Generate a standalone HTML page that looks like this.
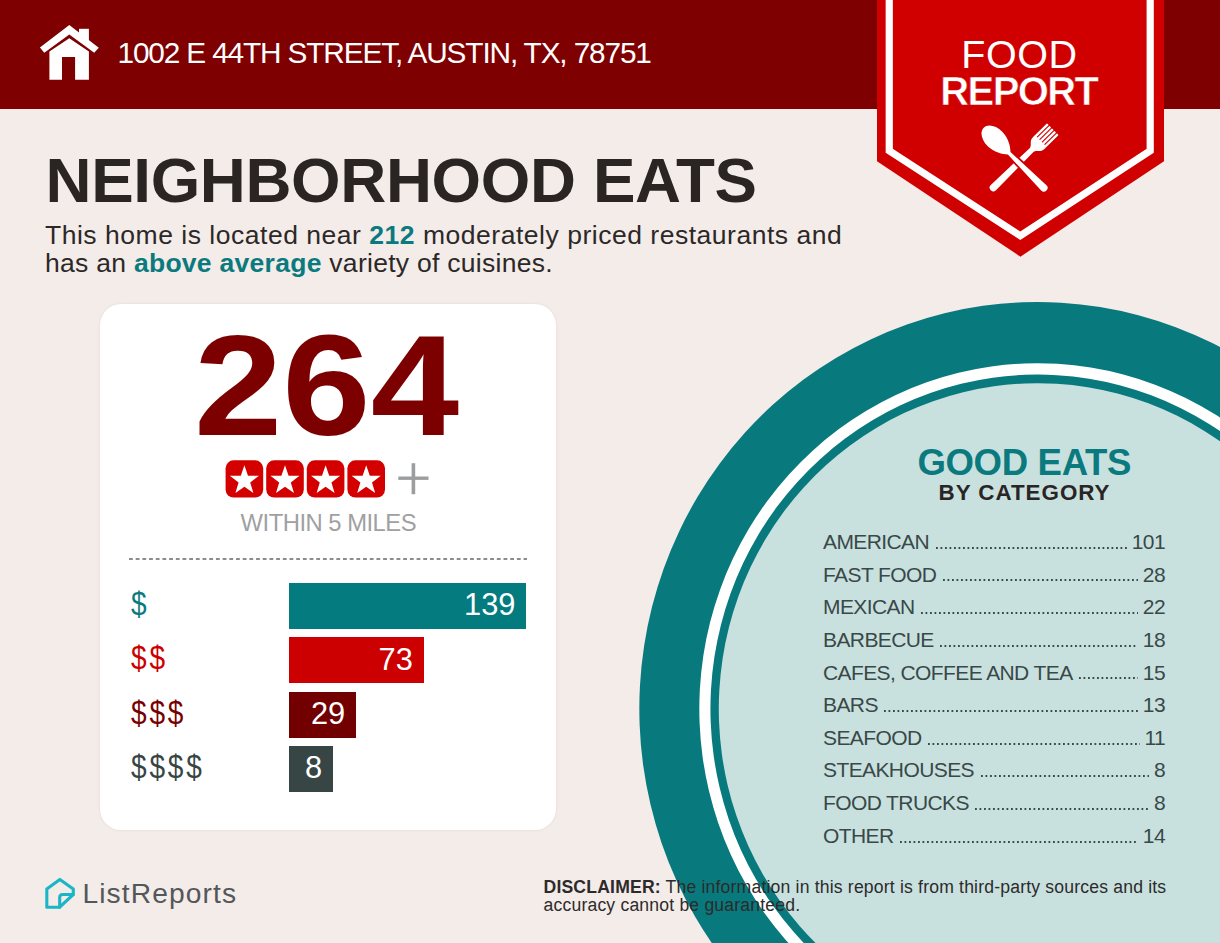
<!DOCTYPE html>
<html><head><meta charset="utf-8">
<style>
html,body{margin:0;padding:0;}
body{width:1220px;height:943px;overflow:hidden;position:relative;background:#f3ece9;font-family:"Liberation Sans",sans-serif;}
.abs{position:absolute;white-space:nowrap;line-height:1;}
#hdr{position:absolute;left:0;top:0;width:1220px;height:109px;background:#7f0000;}
#addr{left:117.5px;top:38.2px;font-size:29.8px;letter-spacing:-1.15px;color:#fff;}
#h1{left:45.6px;top:147.7px;font-size:63.7px;letter-spacing:-0.36px;font-weight:bold;color:#2a2523;}
.body{left:45px;font-size:26.5px;letter-spacing:0.3px;color:#2d2828;}
.tb{color:#0b7a7e;font-weight:bold;}
#card{position:absolute;left:100px;top:304px;width:456px;height:525.7px;background:#fff;border-radius:21px;box-shadow:0 0 3px rgba(80,60,50,0.10);}
#big{left:194px;top:315.3px;font-size:142.5px;font-weight:bold;color:#7c0000;transform:scaleX(1.115);transform-origin:0 0;}
#within{left:240.6px;top:510.6px;font-size:23.8px;letter-spacing:-0.5px;color:#9fa0a2;}
#dash{position:absolute;left:129.4px;top:558.3px;width:397.4px;height:2px;background-image:linear-gradient(to right,#8c8c8c 4px,transparent 4px);background-size:6.7px 2px;background-repeat:repeat-x;}
.bar{position:absolute;left:288.65px;height:46.2px;}
.bar span{position:absolute;right:11px;top:7.6px;font-size:30.8px;line-height:1;color:#fff;white-space:nowrap;}
.dl{left:130.6px;font-size:33px;letter-spacing:3.3px;transform:scaleX(0.85);transform-origin:0 0;}
.cat{left:823px;width:342px;font-size:21px;letter-spacing:-0.6px;color:#3a4848;display:flex;align-items:flex-start;}
.cat .n{flex:none;}
.cat .d{flex:1;margin:15.8px 4.5px 0 6.6px;height:2px;background-image:linear-gradient(to right,#3a4848 2px,transparent 2px);background-size:4.5px 2px;background-repeat:repeat-x;}
</style></head>
<body>
<div id="hdr"></div>
<!-- house icon -->
<svg class="abs" style="left:0;top:0" width="120" height="108" viewBox="0 0 120 108">
<polygon fill="#fff" points="69.3,25.1 98.8,47.7 94.2,52.7 69.3,34.4 44.3,52.7 39.9,47.4"/>
<rect fill="#fff" x="79" y="28.8" width="9.9" height="12"/>
<polygon fill="#fff" points="49.4,51.6 69.3,38.3 88.9,51.6 88.9,79.7 75.1,79.7 75.1,56.9 62,56.9 62,79.7 49.4,79.7"/>
</svg>
<div id="addr" class="abs">1002 E 44TH STREET, AUSTIN, TX, 78751</div>

<div id="h1" class="abs">NEIGHBORHOOD EATS</div>
<div class="abs body" style="top:222.45px;letter-spacing:0.52px">This home is located near <span class="tb">212</span> moderately priced restaurants and</div>
<div class="abs body" style="top:249.65px;letter-spacing:0.28px">has an <span class="tb">above average</span> variety of cuisines.</div>

<!-- circle -->
<svg class="abs" style="left:0;top:0" width="1220" height="943" viewBox="0 0 1220 943">
<ellipse cx="1038.29" cy="709.44" rx="398.95" ry="407.49" fill="#087a7e" transform="rotate(177.70 1038.29 709.44)"/>
<ellipse cx="1038.29" cy="709.44" rx="338.96" ry="346.21" fill="#ffffff" transform="rotate(177.70 1038.29 709.44)"/>
<ellipse cx="1038.29" cy="709.44" rx="327.84" ry="334.86" fill="#087a7e" transform="rotate(177.70 1038.29 709.44)"/>
<ellipse cx="1038.29" cy="709.44" rx="319.48" ry="326.32" fill="#c8e1df" transform="rotate(177.70 1038.29 709.44)"/>
</svg>

<div id="card"></div>
<div id="big" class="abs">264</div>
<svg class="abs" style="left:0;top:440px" width="460" height="80" viewBox="0 440 460 80">
<rect fill="#d40000" x="225.60" y="460.3" width="37.6" height="37.3" rx="8"/>
<polygon fill="#fff" points="244.40,465.30 248.00,475.65 258.95,475.87 250.22,482.49 253.39,492.98 244.40,486.72 235.41,492.98 238.58,482.49 229.85,475.87 240.80,475.65"/>
<rect fill="#d40000" x="266.20" y="460.3" width="37.6" height="37.3" rx="8"/>
<polygon fill="#fff" points="285.00,465.30 288.60,475.65 299.55,475.87 290.82,482.49 293.99,492.98 285.00,486.72 276.01,492.98 279.18,482.49 270.45,475.87 281.40,475.65"/>
<rect fill="#d40000" x="306.80" y="460.3" width="37.6" height="37.3" rx="8"/>
<polygon fill="#fff" points="325.60,465.30 329.20,475.65 340.15,475.87 331.42,482.49 334.59,492.98 325.60,486.72 316.61,492.98 319.78,482.49 311.05,475.87 322.00,475.65"/>
<rect fill="#d40000" x="347.40" y="460.3" width="37.6" height="37.3" rx="8"/>
<polygon fill="#fff" points="366.20,465.30 369.80,475.65 380.75,475.87 372.02,482.49 375.19,492.98 366.20,486.72 357.21,492.98 360.38,482.49 351.65,475.87 362.60,475.65"/>
<rect fill="#9b9d9f" x="398.3" y="476.5" width="30.2" height="3.4"/>
<rect fill="#9b9d9f" x="411.6" y="463.2" width="3.6" height="31"/>
</svg>
<div id="within" class="abs">WITHIN 5 MILES</div>
<div id="dash"></div>
<div class="bar" style="top:582.6px;width:237.8px;background:#037b7f"><span>139</span></div>
<div class="bar" style="top:637.2px;width:135.2px;background:#cc0000"><span>73</span></div>
<div class="bar" style="top:691.6px;width:67.6px;background:#720000"><span>29</span></div>
<div class="bar" style="top:745.7px;width:44.6px;background:#374545"><span>8</span></div>
<div class="abs dl" style="top:587.0px;color:#0b7a7e">$</div>
<div class="abs dl" style="top:641.4px;color:#cc0000">$$</div>
<div class="abs dl" style="top:695.7px;color:#770000">$$$</div>
<div class="abs dl" style="top:750.1px;color:#374545">$$$$</div>

<!-- badge -->
<svg class="abs" style="left:0;top:0" width="1220" height="300" viewBox="0 0 1220 300">
<polygon fill="#d10000" points="877,0 1164,0 1164,161.2 1020.4,256.7 877,161.2"/>
<polyline fill="none" stroke="#fff" stroke-width="7.2" stroke-linejoin="miter" stroke-miterlimit="10" points="889.25,0 889.25,150.85 1020.3,235.75 1150.2,150.85 1150.2,0"/>
<g transform="translate(1018.7,162.7) rotate(45.5)">
<path fill="#fff" d="M-8.25,-31 L8.25,-31 L8.25,-28 C8.25,-22.5 2.7,-21.5 2.7,-18 L3.7,35.5 A3.7,3.7 0 0 1 -3.7,35.5 L-2.7,-18 C-2.7,-21.5 -8.25,-22.5 -8.25,-28 Z"/>
<rect fill="#fff" x="-8.25" y="-47.8" width="2.38" height="17.3" rx="0.6"/>
<rect fill="#fff" x="-4.72" y="-47.8" width="2.38" height="17.3" rx="0.6"/>
<rect fill="#fff" x="-1.19" y="-47.8" width="2.38" height="17.3" rx="0.6"/>
<rect fill="#fff" x="2.34" y="-47.8" width="2.38" height="17.3" rx="0.6"/>
<rect fill="#fff" x="5.87" y="-47.8" width="2.38" height="17.3" rx="0.6"/>
</g>
<g transform="translate(1018,162) rotate(-45)">
<path fill="#fff" stroke="#d10000" stroke-width="3.6" paint-order="stroke" d="M0,-48.5 C5.9,-48.5 10.3,-41.5 10.3,-32.5 C10.3,-23.5 5,-15.5 1.8,-12.5 L3.75,36.5 A3.75,3.75 0 0 1 -3.75,36.5 L-1.8,-12.5 C-5,-15.5 -10.3,-23.5 -10.3,-32.5 C-10.3,-41.5 -5.9,-48.5 0,-48.5 Z"/>
</g>
</svg>
<div class="abs" style="left:961.3px;top:35.2px;font-size:39.5px;letter-spacing:0.54px;color:#fff">FOOD</div>
<div class="abs" style="left:940.3px;top:71.4px;font-size:40px;letter-spacing:-1.6px;font-weight:bold;color:#fff;-webkit-text-stroke:0.6px #d10000">REPORT</div>

<!-- good eats -->
<div class="abs" style="left:917.4px;top:444.5px;font-size:36.6px;letter-spacing:-0.34px;font-weight:bold;color:#0b7a7e">GOOD EATS</div>
<div class="abs" style="left:938.5px;top:482.3px;font-size:22.4px;letter-spacing:0.97px;font-weight:bold;color:#2a2525">BY CATEGORY</div>

<div class="abs cat" style="top:530.86px"><span class="n">AMERICAN</span><span class="d"></span><span class="n">101</span></div>
<div class="abs cat" style="top:563.52px"><span class="n">FAST FOOD</span><span class="d"></span><span class="n">28</span></div>
<div class="abs cat" style="top:596.18px"><span class="n">MEXICAN</span><span class="d"></span><span class="n">22</span></div>
<div class="abs cat" style="top:628.84px"><span class="n">BARBECUE</span><span class="d"></span><span class="n">18</span></div>
<div class="abs cat" style="top:661.50px"><span class="n">CAFES, COFFEE AND TEA</span><span class="d"></span><span class="n">15</span></div>
<div class="abs cat" style="top:694.16px"><span class="n">BARS</span><span class="d"></span><span class="n">13</span></div>
<div class="abs cat" style="top:726.82px"><span class="n">SEAFOOD</span><span class="d"></span><span class="n">11</span></div>
<div class="abs cat" style="top:759.48px"><span class="n">STEAKHOUSES</span><span class="d"></span><span class="n">8</span></div>
<div class="abs cat" style="top:792.14px"><span class="n">FOOD TRUCKS</span><span class="d"></span><span class="n">8</span></div>
<div class="abs cat" style="top:824.80px"><span class="n">OTHER</span><span class="d"></span><span class="n">14</span></div>

<!-- logo -->
<svg class="abs" style="left:0;top:860px" width="80" height="60" viewBox="0 860 80 60">
<g fill="none" stroke="#1bb6c6" stroke-width="3.1" stroke-linejoin="round" stroke-linecap="round">
<path d="M59.7,907.2 L46.8,907.2 L46.8,889 L59.85,879.4 L73.3,889 L73.3,894.5 Z"/>
<path d="M59.7,907.2 L59.7,897.5 Q59.7,894.5 62.7,894.5 L73.3,894.5"/>
</g>
</svg>
<div class="abs" style="left:82.4px;top:879.1px;font-size:28.2px;letter-spacing:1.11px;color:#54575a">ListReports</div>

<div class="abs" style="left:543.5px;top:877.8px;font-size:17.6px;letter-spacing:0.18px;color:#2d2a2a;line-height:18px"><b>DISCLAIMER:</b> The information in this report is from third-party sources and its<br>accuracy cannot be guaranteed.</div>
</body></html>
